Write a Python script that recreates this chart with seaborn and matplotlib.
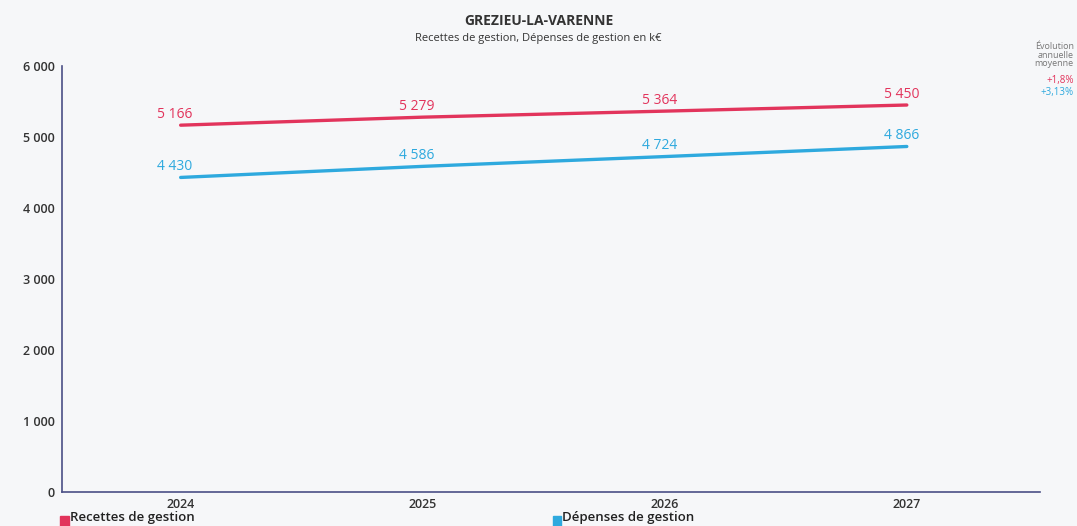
import matplotlib
matplotlib.use("Agg")
import matplotlib.pyplot as plt
import seaborn as sns
import pandas as pd
from matplotlib.patches import Rectangle

# données
annees = ["2024", "2025", "2026", "2027"]
recettes = [5166, 5279, 5364, 5450]
depenses = [4430, 4586, 4724, 4866]
series = ["Recettes de gestion", "Dépenses de gestion"]
couleurs = ["#e2345c", "#2ea9de"]
evolutions = ["+1,8%", "+3,13%"]

df = pd.DataFrame({
    "annee": annees * 2,
    "pos": list(range(len(annees))) * 2,
    "valeur": recettes + depenses,
    "serie": [series[0]] * 4 + [series[1]] * 4,
})

sns.set_style("white")
plt.rcParams["font.family"] = ["Open Sans", "DejaVu Sans"]

fig = plt.figure(figsize=(10.77, 5.26), dpi=100, facecolor="#f6f7f9")
ax = fig.add_axes([0.0576, 0.0646, 0.908, 0.81])
ax.set_facecolor("#f6f7f9")

sns.lineplot(data=df, x="pos", y="valeur", hue="serie", palette=couleurs,
             linewidth=2.4, legend=False, ax=ax)

fmt = lambda v: f"{v:,}".replace(",", " ")
for vals, col in zip([recettes, depenses], couleurs):
    for i, v in enumerate(vals):
        ax.annotate(fmt(v), (i, v), xytext=(-4, 2.5), textcoords="offset points",
                    ha="center", va="bottom", color=col, fontsize=10)

ax.set_xlim(-0.49, 3.55)
ax.set_ylim(0, 6000)
ax.set_yticks(range(0, 6001, 1000))
ax.set_yticklabels([fmt(v) for v in range(0, 6001, 1000)])
ax.set_xticks(range(len(annees)))
ax.set_xticklabels(annees)
ax.set_xlabel("")
ax.set_ylabel("")
for s in ["top", "right"]:
    ax.spines[s].set_visible(False)
for s in ["left", "bottom"]:
    ax.spines[s].set_color("#4b4f86")
    ax.spines[s].set_linewidth(1.2)
ax.tick_params(axis="y", length=3, color="#4b4f86", labelsize=9, labelcolor="#333333", pad=2)
ax.tick_params(axis="x", length=0, labelsize=9, labelcolor="#333333", pad=4)
for t in ax.get_yticklabels() + ax.get_xticklabels():
    t.set_fontweight("semibold")

fig.text(0.5, 0.952, "GREZIEU-LA-VARENNE", ha="center", fontsize=10,
         fontweight="bold", color="#333333")
fig.text(0.5, 0.922, "Recettes de gestion, Dépenses de gestion en k€",
         ha="center", fontsize=8, color="#333333")

# évolution annuelle moyenne
fig.text(0.997, 0.895, "Évolution\nannuelle\nmoyenne", ha="right", va="center",
         fontsize=6.5, color="#777777", linespacing=0.9)
fig.text(0.997, 0.842, evolutions[0], ha="right", fontsize=7, color=couleurs[0])
fig.text(0.997, 0.82, evolutions[1], ha="right", fontsize=7, color=couleurs[1])

# légende
for x0, lab, col in zip([0.056, 0.513], series, couleurs):
    fig.patches.append(Rectangle((x0, 0.0), 0.008, 0.019, transform=fig.transFigure,
                                 color=col, figure=fig))
    fig.text(x0 + 0.009, 0.003, lab, fontsize=9.5, color="#222222",
             fontweight="semibold", va="bottom")

fig.savefig("out.png", dpi=100, facecolor=fig.get_facecolor())
